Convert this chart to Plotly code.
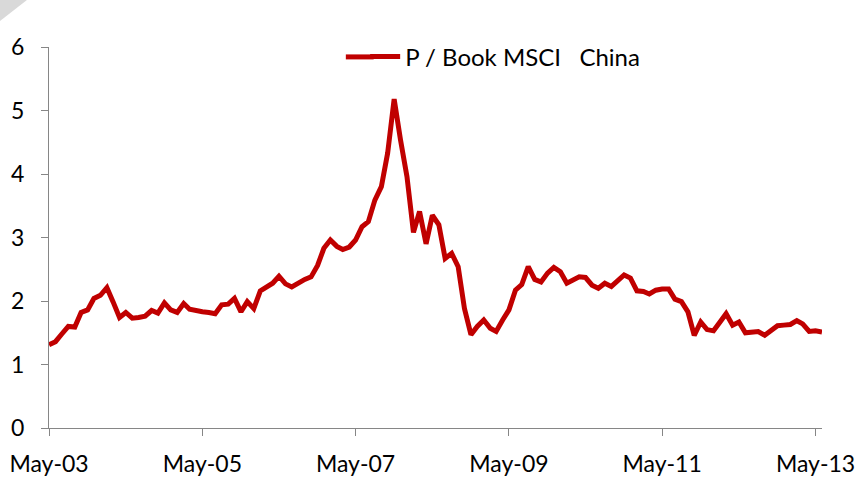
import pandas as pd
import plotly.graph_objects as go

# Monthly P/Book of MSCI China, May-2003 .. Jun-2013
start_month = "2003-05-01"
pb_values = [
    1.31, 1.36, 1.48, 1.60, 1.59, 1.82, 1.86, 2.04, 2.09, 2.21,
    1.99, 1.74, 1.82, 1.73, 1.74, 1.76, 1.85, 1.81, 1.97, 1.86,
    1.82, 1.96, 1.87, 1.84, 1.83, 1.82, 1.80, 1.94, 1.95, 2.04,
    1.83, 1.99, 1.88, 2.16, 2.22, 2.28, 2.39, 2.27, 2.22, 2.29,
    2.34, 2.38, 2.56, 2.83, 2.96, 2.86, 2.81, 2.85, 2.96, 3.17,
    3.25, 3.59, 3.80, 4.33, 5.18, 4.54, 3.96, 3.08, 3.41, 2.90,
    3.35, 3.20, 2.67, 2.75, 2.54, 1.88, 1.47, 1.60, 1.70, 1.57,
    1.52, 1.70, 1.86, 2.17, 2.26, 2.54, 2.34, 2.30, 2.44, 2.53,
    2.46, 2.28, 2.33, 2.38, 2.37, 2.25, 2.20, 2.28, 2.23, 2.33,
    2.41, 2.36, 2.16, 2.15, 2.11, 2.17, 2.19, 2.19, 2.03, 1.99,
    1.83, 1.46, 1.67, 1.55, 1.53, 1.67, 1.80, 1.62, 1.67, 1.50,
    1.51, 1.52, 1.46, 1.54, 1.61, 1.62, 1.63, 1.69, 1.64, 1.52,
    1.53, 1.51,
]
series_name = "P / Book MSCI\u00a0\u00a0\u00a0China"
x_tick_dates = ["2003-05-01", "2005-05-01", "2007-05-01", "2009-05-01", "2011-05-01", "2013-05-01"]
x_tick_labels = ["May-03", "May-05", "May-07", "May-09", "May-11", "May-13"]
y_ticks = [0, 1, 2, 3, 4, 5, 6]

dates = pd.date_range(start_month, periods=len(pb_values), freq="MS")

FONT = "Lato"
AXIS_GREY = "#868686"
RED = "#C00000"

fig = go.Figure()
fig.add_trace(go.Scatter(
    x=dates, y=pb_values, mode="lines", name=series_name,
    line=dict(color=RED, width=5),
))

fig.update_layout(
    width=862, height=480,
    margin=dict(l=49, r=40, t=47, b=52, autoexpand=False),
    paper_bgcolor="white", plot_bgcolor="white",
    font=dict(family=FONT, size=23, color="#000000"),
    showlegend=True,
    legend=dict(
        x=0.409, y=0.974, xanchor="left", yanchor="middle",
        bgcolor="rgba(0,0,0,0)", font=dict(family=FONT, size=24),
        itemwidth=30,
    ),
    xaxis=dict(
        range=[dates[0], dates[-1]],
        tickvals=x_tick_dates, ticktext=x_tick_labels,
        showgrid=False, zeroline=False,
        showline=True, linecolor=AXIS_GREY, linewidth=1,
        ticks="outside", ticklen=7, tickcolor=AXIS_GREY,
        ticklabelstandoff=8,
    ),
    yaxis=dict(
        range=[0, 6], tickvals=y_ticks,
        showgrid=False, zeroline=False,
        showline=True, linecolor=AXIS_GREY, linewidth=1,
        ticks="outside", ticklen=7, tickcolor=AXIS_GREY,
        ticklabelstandoff=12,
    ),
    shapes=[
        dict(
            type="path", xref="paper", yref="paper",
            path="M -0.0634 1.1234 L -0.0285 1.1234 L -0.0634 1.0682 Z",
            fillcolor="#D9D9D9", line=dict(width=0),
        ),
        # lengthen the legend key line to match the reference's long sample
        dict(
            type="line", xref="paper", yref="paper",
            x0=0.384, x1=0.42, y0=0.974, y1=0.974,
            line=dict(color=RED, width=5),
        ),
    ],
)

fig.write_html("out.html")
